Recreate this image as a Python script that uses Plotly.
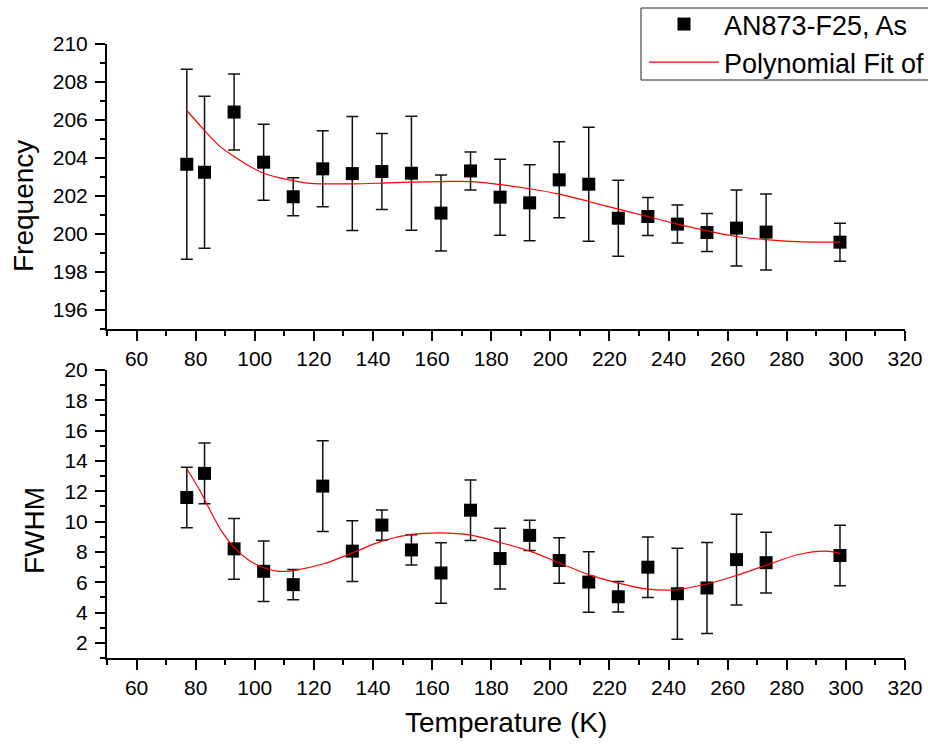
import plotly.graph_objects as go

# ---------------- data ----------------
temperature = [77, 83, 93, 103, 113, 123, 133, 143, 153, 163, 173,
               183, 193, 203, 213, 223, 233, 243, 253, 263, 273, 298]

frequency = [203.67, 203.25, 206.42, 203.78, 201.96, 203.43, 203.18, 203.29,
             203.20, 201.10, 203.32, 201.94, 201.64, 202.85, 202.62, 200.83,
             200.92, 200.52, 200.08, 200.31, 200.10, 199.57]
frequency_err = [5.0, 4.0, 2.0, 2.0, 1.0, 2.0, 3.0, 2.0, 3.0, 2.0, 1.0,
                 2.0, 2.0, 2.0, 3.0, 2.0, 1.0, 1.0, 1.0, 2.0, 2.0, 1.0]

fwhm = [11.59, 13.18, 8.20, 6.72, 5.84, 12.34, 8.05, 9.77, 8.13, 6.61, 10.75,
        7.56, 9.09, 7.43, 6.01, 5.04, 6.99, 5.24, 5.62, 7.49, 7.29, 7.76]
fwhm_err = [2.0, 2.0, 2.0, 2.0, 1.0, 3.0, 2.0, 1.0, 1.0, 2.0, 2.0,
            2.0, 1.0, 1.5, 2.0, 1.0, 2.0, 3.0, 3.0, 3.0, 2.0, 2.0]

# polynomial-fit curves
fit_freq_t = [77, 83, 88, 93, 98, 103, 108, 113, 118, 123, 133, 143, 153, 163,
              173, 183, 193, 203, 213, 223, 233, 243, 253, 263, 273, 283, 298]
fit_freq_v = [206.50, 205.45, 204.64, 204.08, 203.59, 203.20, 202.97, 202.81,
              202.68, 202.64, 202.64, 202.68, 202.73, 202.76, 202.76, 202.60,
              202.38, 202.10, 201.71, 201.31, 200.92, 200.52, 200.17, 199.87,
              199.70, 199.60, 199.57]

fit_fwhm_t = [77, 81, 85, 89, 93, 98, 103, 108, 113, 123, 133, 143, 153, 163,
              173, 183, 193, 203, 213, 223, 233, 240, 243, 253, 263, 273, 284,
              293, 298]
fit_fwhm_v = [13.47, 12.20, 10.70, 9.30, 8.30, 7.45, 6.95, 6.72, 6.77, 7.20,
              7.93, 8.71, 9.15, 9.26, 9.11, 8.62, 8.05, 7.28, 6.50, 5.94, 5.54,
              5.48, 5.52, 5.88, 6.45, 7.12, 7.83, 8.05, 7.90]

x_ticks = [60, 80, 100, 120, 140, 160, 180, 200, 220, 240, 260, 280, 300, 320]

data_name = "AN873-F25, As"
fit_name = "Polynomial Fit of Frequency"

FONT = "Liberation Sans, Arial, sans-serif"

W, H = 928, 745
ML, MR, MT, MB = 107, 23, 44, 87
PW = W - ML - MR
PH = H - MT - MB


def px_x(p):
    return (p - ML) / PW


def px_y(p):
    return (H - MB - p) / PH


fig = go.Figure()

marker = dict(symbol="square", size=13, color="black")
err = dict(thickness=1.5, width=6, color="#111111")

fig.add_trace(go.Scatter(
    x=temperature, y=frequency, mode="markers", name=data_name,
    marker=marker,
    error_y=dict(type="data", array=frequency_err, visible=True, **err),
    xaxis="x", yaxis="y", showlegend=True))
fig.add_trace(go.Scatter(
    x=fit_freq_t, y=fit_freq_v, mode="lines", name=fit_name,
    line=dict(color="red", width=1.2, shape="spline"),
    xaxis="x", yaxis="y", showlegend=True))
fig.add_trace(go.Scatter(
    x=temperature, y=fwhm, mode="markers", name=data_name,
    marker=marker,
    error_y=dict(type="data", array=fwhm_err, visible=True, **err),
    xaxis="x2", yaxis="y2", showlegend=False))
fig.add_trace(go.Scatter(
    x=fit_fwhm_t, y=fit_fwhm_v, mode="lines", name=fit_name,
    line=dict(color="red", width=1.2, shape="spline"),
    xaxis="x2", yaxis="y2", showlegend=False))

axis_common = dict(
    showline=True, linecolor="black", linewidth=2,
    ticks="outside", ticklen=10, tickwidth=2, tickcolor="black",
    showgrid=False, zeroline=False, mirror=False,
    tickfont=dict(family=FONT, size=21, color="black"),
)
minor = dict(ticks="outside", ticklen=5, tickwidth=2, tickcolor="black", showgrid=False)

xdom = [0, 1]
top_dom = [px_y(329), 1.0]
bot_dom = [0.0, px_y(370)]

fig.update_layout(
    width=W, height=H,
    margin=dict(l=ML, r=MR, t=MT, b=MB, autoexpand=False),
    paper_bgcolor="white", plot_bgcolor="white",
    font=dict(family=FONT, color="black"),
    xaxis=dict(domain=xdom, anchor="y", range=[50, 320], tickvals=x_ticks,
               minor=dict(dtick=10, tick0=0, **minor), **axis_common),
    yaxis=dict(domain=top_dom, anchor="x", range=[195, 210], dtick=2, tick0=0,
               minor=dict(dtick=1, tick0=0, **minor), ticklabelstandoff=3,
               **axis_common),
    xaxis2=dict(domain=xdom, anchor="y2", range=[50, 320], tickvals=x_ticks,
                minor=dict(dtick=10, tick0=0, **minor), **axis_common),
    yaxis2=dict(domain=bot_dom, anchor="x2", range=[1, 20], dtick=2, tick0=0,
                minor=dict(dtick=1, tick0=1, **minor), ticklabelstandoff=3,
                **axis_common),
    legend=dict(
        x=px_x(644), y=px_y(0), xanchor="left", yanchor="top",
        bgcolor="rgba(0,0,0,0)", borderwidth=0,
        font=dict(family=FONT, size=27, color="black"),
        itemwidth=70, tracegroupgap=0,
    ),
    shapes=[
        dict(type="rect", xref="paper", yref="paper",
             x0=px_x(641), x1=px_x(960), y0=px_y(80), y1=px_y(8),
             line=dict(color="#222222", width=1), fillcolor="white",
             layer="below"),
    ],
    annotations=[
        dict(text="Frequency", x=px_x(23), y=px_y(206), xref="paper", yref="paper",
             textangle=-90, showarrow=False, xanchor="center", yanchor="middle",
             font=dict(family=FONT, size=28, color="black")),
        dict(text="FWHM", x=px_x(34), y=px_y(531), xref="paper", yref="paper",
             textangle=-90, showarrow=False, xanchor="center", yanchor="middle",
             font=dict(family=FONT, size=28, color="black")),
        dict(text="Temperature (K)", x=0.5, y=px_y(722), xref="paper", yref="paper",
             showarrow=False, xanchor="center", yanchor="middle",
             font=dict(family=FONT, size=28, color="black")),
    ],
)

fig.write_html("out.html")
